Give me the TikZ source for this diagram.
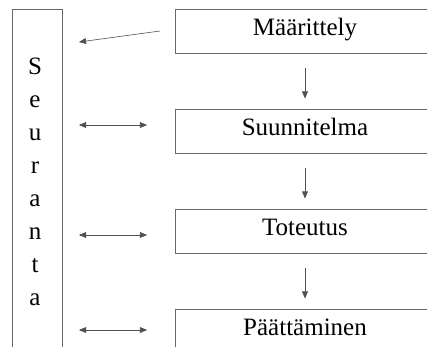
\documentclass[tikz,border=0pt]{standalone}
\usepackage{fontspec}
\setmainfont{Liberation Serif}
\usepackage{tikz}
\usetikzlibrary{arrows,positioning}

\begin{document}
\begin{tikzpicture}[x=1pt,y=-1pt]
\definecolor{boxColor}{RGB}{105,105,105}
\definecolor{lineColor}{RGB}{80,80,80}
\tikzset{
  phase/.style={draw=boxColor, line width=1pt, minimum width=260pt, minimum height=44pt, inner sep=0pt, text depth=8pt, font=\fontsize{25}{29}\selectfont},
  letter/.style={anchor=base, inner sep=0pt, font=\fontsize{25}{30}\selectfont},
  link/.style={->, >=triangle 45, draw=lineColor, line width=0.6pt}
}
\useasboundingbox (0,0) rectangle (427,346);
\begin{scope}
  \clip (0,0) rectangle (427,346);
  % seuranta column
  \node[draw=boxColor, line width=1pt, minimum width=50pt, minimum height=391pt, inner sep=0pt] (seuranta) at (37,204.5) {};
  \foreach \l [count=\i] in {S,e,u,r,a,n,t,a}
    \node[letter] (l\i) at (35,{74+33*(\i-1)}) {\l};
  % phases
  \node[phase] (maarittely) at (305,31) {Määrittely};
  \node[phase, below=55pt of maarittely] (suunnitelma) {Suunnitelma};
  \node[phase, below=55pt of suunnitelma] (toteutus) {Toteutus};
  \node[phase, below=55pt of toteutus] (paattaminen) {Päättäminen};
  \foreach \a/\b in {maarittely/suunnitelma,suunnitelma/toteutus,toteutus/paattaminen}
    \draw[link, shorten <=14pt, shorten >=10pt] (\a.south) -- (\b.north);
  % links to seuranta
  \coordinate (m out) at (160,31);
  \coordinate (m in) at (79,42);
  \draw[link] (m out) -- (m in);
  \foreach \y/\n in {125/s,235/t,330/p} {
    \coordinate (\n left) at (79,\y);
    \coordinate (\n right) at (147,\y);
    \draw[link,<->] (\n left) -- (\n right);
  }
\end{scope}
\end{tikzpicture}
\end{document}
